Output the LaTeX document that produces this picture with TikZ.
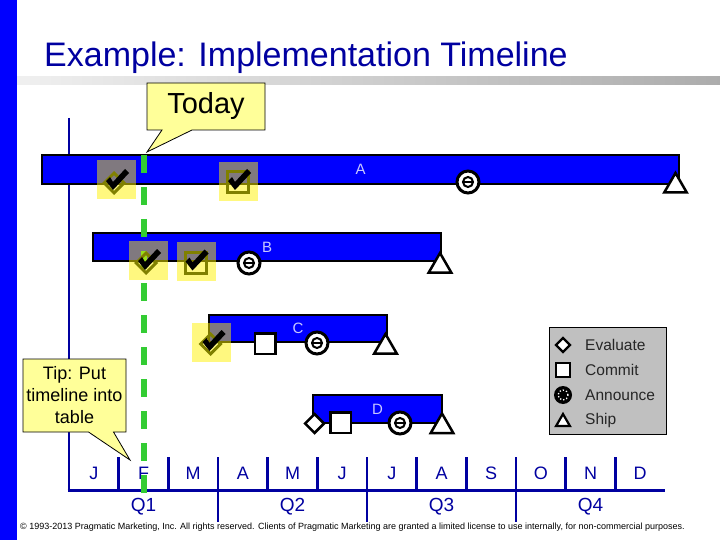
\documentclass[tikz,border=0pt]{standalone}
\usepackage{fontspec}
\setmainfont{Liberation Sans}
\usepackage{tikz}
\usetikzlibrary{shapes.geometric, shapes.callouts, positioning}

\definecolor{navy}{RGB}{0,0,160}
\definecolor{barblue}{RGB}{0,0,255}
\definecolor{notegold}{RGB}{255,255,153}
\definecolor{olivedone}{RGB}{128,128,0}
\definecolor{todaygreen}{RGB}{51,204,51}
\definecolor{barlabel}{RGB}{200,200,255}
\definecolor{legendgray}{RGB}{192,192,192}

\begin{document}
\begin{tikzpicture}[
    x=1pt, y=-1pt,
    bar/.style = {rectangle, draw=black, line width=2pt, fill=barblue, inner sep=0pt, text=barlabel, font=\fontsize{15}{15}\selectfont},
    evaluate/.style = {diamond, draw=black, fill=white, line width=2.5pt, inner sep=0pt, minimum size=20pt},
    commit/.style = {rectangle, draw=black, fill=white, line width=2.5pt, inner sep=0pt, minimum size=20.5pt},
    ship/.style = {regular polygon, regular polygon sides=3, draw=black, fill=white, line width=2.5pt, inner sep=0pt, minimum size=26pt},
    announce/.style = {circle, draw=black, fill=white, line width=3pt, inner sep=0pt, minimum size=22pt,
        path picture={\draw[black, line width=2pt] (path picture bounding box.center) circle[radius=5pt];
            \draw[black, line width=2pt] ([xshift=-4pt]path picture bounding box.center) -- ([xshift=4pt]path picture bounding box.center);}},
    donebg/.style = {rectangle, fill=yellow, fill opacity=0.5, inner sep=0pt, minimum size=39pt},
    evaldone/.style = {diamond, draw=olivedone, line width=3pt, inner sep=0pt, minimum size=21pt},
    commitdone/.style = {rectangle, draw=olivedone, line width=3pt, inner sep=0pt, minimum size=21pt},
    note/.style = {rectangle callout, draw=black, line width=0.8pt, fill=notegold, inner sep=0pt, align=center},
    rule/.style = {draw=navy, line width=2.5pt},
    month/.style = {text=navy, inner sep=0pt, font=\fontsize{18}{18}\selectfont},
    legtext/.style = {anchor=west, inner sep=0pt, text=black!85, font=\fontsize{15.5}{15.5}\selectfont},
    pics/checkmark/.style = {code={\fill[black] (-10,-1) -- (-6,-5) -- (-3,0) -- (9,-13) -- (13,-9) -- (-3,8) -- cycle;}}
]
    \useasboundingbox (0,0) rectangle (720,540);
    \fill[barblue] (0,0) rectangle (17,540);
    \shade[left color=gray!12, right color=gray!65] (17,77) rectangle (720,85);
    \node [anchor=base west, inner sep=0pt, text=navy, font=\fontsize{34}{34}\selectfont] (title) at (44,67) {Example: Implementation Timeline};

    \path [rule] (69,118) -- (69,490);
    \path [rule, line width=3pt] (67.5,490) -- (665,490);
    \foreach \i in {1,...,11}
        \path [rule] ({69+49.67*\i}, 457) -- ({69+49.67*\i}, 490);
    \foreach \i in {3,6,9}
        \path [rule] ({69+49.67*\i}, 490) -- ({69+49.67*\i}, 522);
    \foreach \m [count=\i] in {J,F,M,A,M,J,J,A,S,O,N,D}
        \node [month] (m\i) at ({69+49.67*(\i-0.5)}, 473) {\m};
    \foreach \q in {1,...,4}
        \node [month, font=\fontsize{19}{19}\selectfont] (q\q) at ({69+149*(\q-0.5)}, 507) {Q\q};

    \node [bar, minimum width=637pt, minimum height=29pt] (barA) at (360.5,169.5) {A};
    \node [bar, minimum width=348pt, minimum height=28pt] (barB) at (267,247) {B};
    \node [bar, minimum width=178pt, minimum height=27pt] (barC) at (298,328.5) {C};
    \node [bar, minimum width=129pt, minimum height=28pt] (barD) at (377.5,409) {D};

    \path [draw=todaygreen, line width=6pt, dash pattern=on 18pt off 14pt] (143.5,155) -- (143.5,493);

    \node [donebg] (a1bg) at (116.5,180) {};
    \node [evaldone] (a1) at (114,183) {};
    \pic at (116,182) {checkmark};
    \node [donebg] (a2bg) at (238.5,181.5) {};
    \node [commitdone] (a2) at (238,182) {};
    \pic at (238,182) {checkmark};
    \node [announce] (a3) at (468,182) {};
    \node [ship] (a4) at (675.5,186) {};

    \node [donebg] (b1bg) at (148.5,260.5) {};
    \node [evaldone] (b1) at (146,263) {};
    \pic at (148,262) {checkmark};
    \node [donebg] (b2bg) at (196.5,261) {};
    \node [commitdone] (b2) at (195.5,262.5) {};
    \pic at (195.5,262.5) {checkmark};
    \node [announce] (b3) at (249,263) {};
    \node [ship] (b4) at (440,266) {};

    \node [donebg] (c1bg) at (211.5,342.5) {};
    \node [evaldone] (c1) at (210.5,344) {};
    \pic at (212.5,343) {checkmark};
    \node [commit] (c2) at (265,343.5) {};
    \node [announce] (c3) at (317,343) {};
    \node [ship] (c4) at (385.5,347) {};

    \node [evaluate] (d1) at (314.5,423.5) {};
    \node [commit] (d2) at (340.5,422.5) {};
    \node [announce] (d3) at (400,423) {};
    \node [ship] (d4) at (442,426.5) {};

    \node [rectangle, draw=black, line width=1pt, fill=legendgray, minimum width=117pt, minimum height=107pt] (legend) at (607.5,380.5) {};
    \node [evaluate, line width=2.2pt, minimum size=15pt] (lev) at (563,345) {};
    \node [commit, line width=2.2pt, minimum size=14pt] (lco) at (563,370) {};
    \node [circle, fill=black, inner sep=0pt, minimum size=18pt,
        path picture={\draw[white, dotted, line width=1.3pt] (path picture bounding box.center) circle[radius=5pt];}] (lan) at (563,395) {};
    \node [ship, line width=2.2pt, minimum size=16pt] (lsh) at (563,422) {};
    \node [legtext] (tev) at (585,345) {Evaluate};
    \node [legtext] (tco) at (585,370) {Commit};
    \node [legtext] (tan) at (585,395) {Announce};
    \node [legtext] (tsh) at (585,420) {Ship};

    \coordinate (todaytip) at (147,152);
    \node [note, minimum width=118pt, minimum height=47pt, callout absolute pointer={(todaytip)}, callout pointer width=30pt, font=\fontsize{29}{29}\selectfont] (today) at (206,106.5) {Today};
    \coordinate (tiptip) at (130,460);
    \node [note, minimum width=103pt, minimum height=73pt, callout absolute pointer={(tiptip)}, callout pointer width=25pt, font=\fontsize{18}{22}\selectfont] (tip) at (74.5,395.5) {Tip: Put\\timeline into\\table};

    \node [anchor=west, inner sep=0pt, font=\fontsize{9}{9}\selectfont] (copy) at (20,527) {© 1993-2013 Pragmatic Marketing, Inc. All rights reserved. Clients of Pragmatic Marketing are granted a limited license to use internally, for non-commercial purposes.};
\end{tikzpicture}
\end{document}
